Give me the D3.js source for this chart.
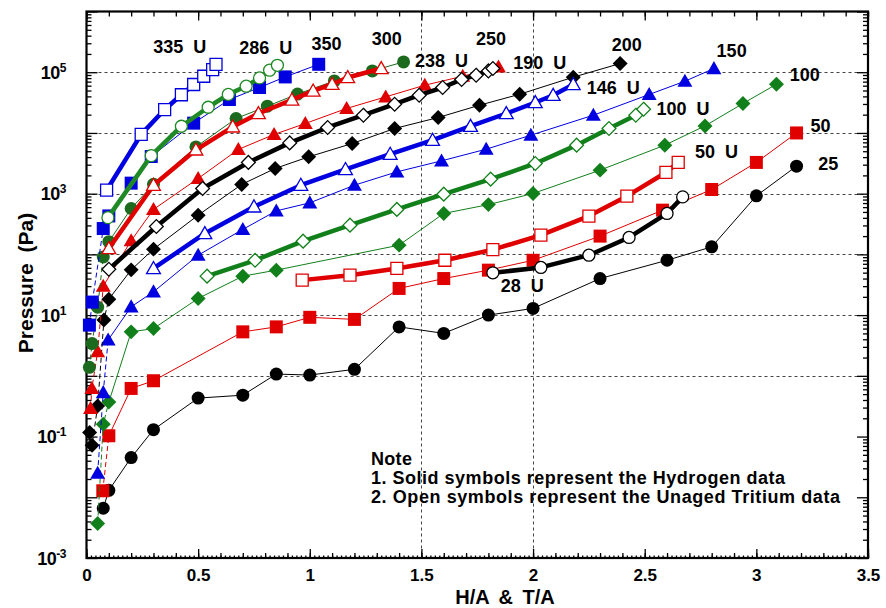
<!DOCTYPE html>
<html>
<head>
<meta charset="utf-8">
<script src="https://cdnjs.cloudflare.com/ajax/libs/d3/7.8.5/d3.min.js"></script>
<style>
  body { margin: 0; background: #fff; }
  svg { display: block; }
  text { font-family: "Liberation Sans", Arial, sans-serif; font-weight: bold; fill: #000; }
</style>
</head>
<body>
<script>
// hydrogen data (solid symbols)
var h25x = [0.075, 0.10, 0.20, 0.30, 0.50, 0.70, 0.85, 1.0, 1.2, 1.4, 1.6, 1.8, 2.0, 2.3, 2.6, 2.8, 3.0, 3.18];
var h25y = [0.0066, 0.013, 0.045, 0.13, 0.43, 0.48, 1.07, 1.03, 1.28, 6.4, 5.0, 10, 12.9, 40, 80, 133, 920, 2840];
var h50x = [0.073, 0.10, 0.20, 0.30, 0.70, 0.85, 1.0, 1.2, 1.4, 1.6, 1.8, 2.0, 2.3, 2.58, 2.8, 3.0, 3.18];
var h50y = [0.0128, 0.103, 0.62, 0.83, 5.3, 6.4, 9.2, 8.5, 27.5, 40, 55, 80, 200, 535, 1170, 3270, 10000];
var h100x = [0.05, 0.075, 0.10, 0.20, 0.30, 0.50, 0.70, 0.85, 1.4, 1.6, 1.8, 2.0, 2.3, 2.59, 2.77, 2.94, 3.09];
var h100y = [0.0037, 0.16, 0.37, 5.3, 6.0, 18.8, 43.8, 55, 142, 472, 660, 1007, 2440, 6290, 13060, 30550, 63400];
var h150x = [0.05, 0.075, 0.097, 0.20, 0.30, 0.50, 0.70, 0.85, 1.0, 1.2, 1.39, 1.59, 1.79, 1.99, 2.27, 2.52, 2.68, 2.81];
var h150y = [0.025, 0.53, 3.9, 13.7, 24.2, 97, 258, 521, 706, 1380, 2285, 3470, 5400, 9190, 19600, 43000, 71100, 115000];
var h200x = [0.014, 0.025, 0.05, 0.078, 0.10, 0.20, 0.30, 0.50, 0.695, 0.845, 0.995, 1.19, 1.38, 1.575, 1.76, 1.94, 2.18, 2.39];
var h200y = [0.117, 0.072, 0.32, 8.3, 18.3, 55.6, 122, 442, 1420, 2600, 4040, 6700, 11840, 17950, 28600, 43400, 82800, 139000];
var h250x = [0.018, 0.024, 0.05, 0.075, 0.20, 0.30, 0.50, 0.68, 0.84, 0.98, 1.165, 1.34, 1.515, 1.685, 1.845];
var h250y = [0.29, 0.62, 2.5, 30, 168, 550, 1780, 5350, 9440, 14300, 25300, 39300, 61100, 85900, 122000];
var h300x = [0.013, 0.025, 0.05, 0.075, 0.10, 0.20, 0.30, 0.49, 0.67, 0.81, 0.945, 1.11, 1.28, 1.42];
var h300y = [1.38, 3.4, 13.5, 91, 162, 570, 1430, 5890, 17300, 27600, 43700, 71900, 105000, 148000];
var h350x = [0.013, 0.026, 0.075, 0.10, 0.20, 0.29, 0.48, 0.64, 0.775, 0.89, 1.04];
var h350y = [6.84, 16.4, 267, 430, 1490, 4090, 14500, 35500, 56000, 83700, 135000];

// unaged tritium data (open symbols)
var t28x = [1.82, 2.035, 2.25, 2.43, 2.60, 2.67];
var t28y = [49.7, 61, 97, 190, 472, 885];
var t50x = [0.966, 1.18, 1.39, 1.605, 1.82, 2.035, 2.25, 2.42, 2.595, 2.65];
var t50y = [37.7, 45.5, 58.7, 80, 120, 207, 427, 910, 2235, 3270];
var t100x = [0.54, 0.755, 0.97, 1.18, 1.39, 1.60, 1.81, 2.01, 2.195, 2.34, 2.46, 2.495];
var t100y = [43.8, 80, 165, 303, 550, 981, 1734, 3140, 6290, 11840, 19600, 24600];
var t146x = [0.30, 0.53, 0.75, 0.96, 1.16, 1.36, 1.55, 1.72, 1.88, 2.01, 2.09, 2.18];
var t146y = [58.7, 221, 607, 1380, 2510, 4470, 7600, 12900, 20900, 31700, 41800, 62900];
var t190x = [0.10, 0.313, 0.52, 0.725, 0.91, 1.08, 1.24, 1.38, 1.49, 1.595, 1.68, 1.745, 1.80, 1.82];
var t190y = [56.8, 288, 1219, 3270, 6860, 12300, 19600, 29700, 41800, 56000, 75900, 89300, 105000, 115000];
var t238x = [0.10, 0.30, 0.49, 0.655, 0.77, 0.92, 1.015, 1.10, 1.17, 1.32];
var t238y = [125, 1380, 5270, 12600, 20900, 35000, 49200, 63400, 81800, 115000];
var t286x = [0.096, 0.29, 0.425, 0.545, 0.635, 0.715, 0.775, 0.82, 0.855];
var t286y = [403, 4230, 12900, 26500, 43100, 58900, 80600, 108000, 130000];
var t335x = [0.09, 0.245, 0.35, 0.425, 0.48, 0.525, 0.565, 0.58];
var t335y = [1140, 9460, 24300, 42600, 62800, 85900, 110000, 135000];

// curve labels, placed at [x, pressure] of their left baseline
var labelText = ['335 U', '286 U', '350', '300', '238 U', '250', '190 U', '200', '146 U', '150', '100', '100 U', '50', '50 U', '25', '28 U'];
var labelX = [0.299, 0.684, 1.008, 1.277, 1.471, 1.744, 1.911, 2.352, 2.24, 2.822, 3.150, 2.553, 3.243, 2.725, 3.277, 1.855];
var labelY = [2.08e5, 1.98e5, 2.30e5, 2.78e5, 1.22e5, 2.78e5, 1.15e5, 2.24e5, 4.46e4, 1.79e5, 7.11e4, 1.96e4, 1.04e4, 3.94e3, 2.44e3, 24.2];

var xTicks = [0, 0.5, 1, 1.5, 2, 2.5, 3, 3.5];
var yLabelExps = [5, 3, 1, -1, -3];
var noteLines = ['Note', '1. Solid symbols represent the Hydrogen data', '2. Open symbols represent the Unaged Tritium data'];

var board = { width: 886, height: 608, left: 86.5, right: 868, top: 11.5, bottom: 558 };

var blue = '#0000e0', red = '#e00000', green = '#12801a', dkgreen = '#1c6a1e';

var series = [
  { x: h25x, y: h25y, color: '#000', shape: 'circle', open: false, dashLow: false },
  { x: h50x, y: h50y, color: red, shape: 'square', open: false, dashLow: true },
  { x: h100x, y: h100y, color: green, shape: 'diamond', open: false, dashLow: true },
  { x: h150x, y: h150y, color: blue, shape: 'triangle', open: false, dashLow: true },
  { x: h200x, y: h200y, color: '#000', shape: 'diamond', open: false, dashLow: true },
  { x: h250x, y: h250y, color: red, shape: 'triangle', open: false, dashLow: true },
  { x: h300x, y: h300y, color: dkgreen, shape: 'circle', open: false, dashLow: true },
  { x: h350x, y: h350y, color: blue, shape: 'square', open: false, dashLow: true },
  { x: t28x, y: t28y, color: '#000', shape: 'circle', open: true },
  { x: t50x, y: t50y, color: red, shape: 'square', open: true },
  { x: t100x, y: t100y, color: green, shape: 'diamond', open: true },
  { x: t146x, y: t146y, color: blue, shape: 'triangle', open: true },
  { x: t190x, y: t190y, color: '#000', shape: 'diamond', open: true },
  { x: t238x, y: t238y, color: red, shape: 'triangle', open: true },
  { x: t286x, y: t286y, color: '#1f8a25', shape: 'circle', open: true },
  { x: t335x, y: t335y, color: blue, shape: 'square', open: true }
];

var shapes = {
  circle: function(s) { return d3.symbol(d3.symbolCircle, Math.PI * s * s)(); },
  square: function(s) { return 'M' + (-s) + ',' + (-s) + 'H' + s + 'V' + s + 'H' + (-s) + 'Z'; },
  diamond: function(s) { s = s * 1.15; return 'M0,' + (-s) + 'L' + s + ',0L0,' + s + 'L' + (-s) + ',0Z'; },
  triangle: function(s) { s = s * 1.15; return 'M0,' + (-s) + 'L' + s + ',' + (s * 0.75) + 'L' + (-s) + ',' + (s * 0.75) + 'Z'; }
};

var svg = d3.select('body').append('svg')
  .attr('width', board.width)
  .attr('height', board.height);

var x = d3.scaleLinear().domain([0, 3.5]).range([board.left, board.right]);
var y = d3.scaleLog().domain([1e-3, 1e6]).range([board.bottom, board.top]);

// dashed grid
var grid = svg.append('g').attr('stroke', '#444').attr('stroke-width', 1).attr('stroke-dasharray', '3,3');
grid.selectAll('.hg').data([1, 10, 100, 1e3, 1e4, 1e5]).enter().append('line')
  .attr('x1', board.left).attr('x2', board.right)
  .attr('y1', function(d) { return Math.round(y(d)) + 0.5; })
  .attr('y2', function(d) { return Math.round(y(d)) + 0.5; });
grid.selectAll('.vg').data([1.5, 2]).enter().append('line')
  .attr('y1', board.top).attr('y2', board.bottom)
  .attr('x1', function(d) { return Math.round(x(d)) + 0.5; })
  .attr('x2', function(d) { return Math.round(x(d)) + 0.5; });

// ticks on all four sides, pointing inward
var fine = d3.range(0, 3.5001, 0.02), minorX = d3.range(0, 3.5001, 0.1);
var minorY = [], majorY = [];
for (var e = -3; e < 6; e++) {
  majorY.push(Math.pow(10, e));
  for (var m = 2; m < 10; m++) minorY.push(m * Math.pow(10, e));
}
majorY.push(1e6);

function tickGroup(axis, tx, ty) {
  svg.append('g').attr('transform', 'translate(' + tx + ',' + ty + ')')
    .call(axis.tickFormat(''))
    .call(function(g) { g.select('.domain').remove(); g.selectAll('line').attr('stroke', '#000').attr('stroke-width', 1.3); });
}
tickGroup(d3.axisBottom(x).tickValues(fine).tickSize(-2.5), 0, board.bottom);
tickGroup(d3.axisBottom(x).tickValues(minorX).tickSize(-5), 0, board.bottom);
tickGroup(d3.axisBottom(x).tickValues(xTicks).tickSize(-9), 0, board.bottom);
tickGroup(d3.axisTop(x).tickValues(minorX).tickSize(-5), 0, board.top);
tickGroup(d3.axisTop(x).tickValues(xTicks).tickSize(-9), 0, board.top);
tickGroup(d3.axisLeft(y).tickValues(minorY).tickSize(-5), board.left, 0);
tickGroup(d3.axisLeft(y).tickValues(majorY).tickSize(-11), board.left, 0);
tickGroup(d3.axisRight(y).tickValues(minorY).tickSize(-5), board.right, 0);
tickGroup(d3.axisRight(y).tickValues(majorY).tickSize(-11), board.right, 0);

svg.append('rect')
  .attr('x', board.left).attr('y', board.top)
  .attr('width', board.right - board.left).attr('height', board.bottom - board.top)
  .attr('fill', 'none').attr('stroke', '#000').attr('stroke-width', 2.2);

// x tick labels
svg.append('g').attr('transform', 'translate(0,' + board.bottom + ')')
  .call(d3.axisBottom(x).tickValues(xTicks).tickSize(0).tickPadding(11).tickFormat(d3.format('')))
  .call(function(g) {
    g.select('.domain').remove();
    g.selectAll('text').style('font-size', '17px').attr('fill', '#000')
      .style('font-family', '"Liberation Sans", Arial, sans-serif');
  });

// y tick labels: 10 with superscript exponent
var yl = svg.append('g').selectAll('text').data(yLabelExps).enter().append('text')
  .attr('x', 66)
  .attr('y', function(d) { return y(Math.pow(10, d)) + 6.5; })
  .attr('text-anchor', 'end')
  .style('font-size', '18px').style('letter-spacing', '-0.5px');
yl.append('tspan').text('10');
yl.append('tspan').attr('dy', -7).style('font-size', '12px').text(function(d) { return d; });

// axis titles
svg.append('text')
  .attr('transform', 'translate(33,283) rotate(-90)')
  .attr('text-anchor', 'middle')
  .style('font-size', '21px').style('word-spacing', '5px')
  .text('Pressure (Pa)');
svg.append('text')
  .attr('x', 505).attr('y', 604)
  .attr('text-anchor', 'middle')
  .style('font-size', '20px').style('word-spacing', '4px')
  .text('H/A & T/A');

// curves: hydrogen lines are dashed near the origin
var line = d3.line()
  .x(function(d) { return x(d[0]); })
  .y(function(d) { return y(d[1]); });

series.forEach(function(s) {
  var pts = s.x.map(function(v, i) { return [v, s.y[i]]; });
  var g = svg.append('g');
  var split = 0;
  if (s.dashLow) {
    pts.forEach(function(p, i) { if (p[0] <= 0.1) split = i; });
    g.append('path')
      .attr('d', line(pts.slice(0, split + 1)))
      .attr('fill', 'none').attr('stroke', s.color)
      .attr('stroke-width', 1).attr('stroke-dasharray', '5,3');
  }
  g.append('path')
    .attr('d', line(pts.slice(split)))
    .attr('fill', 'none')
    .attr('stroke', s.color)
    .attr('stroke-width', s.open ? 4.5 : 1)
    .attr('stroke-linejoin', 'round');
  g.selectAll('path.pt').data(pts).enter().append('path')
    .attr('class', 'pt')
    .attr('transform', function(d) { return 'translate(' + x(d[0]) + ',' + y(d[1]) + ')'; })
    .attr('d', shapes[s.shape](s.open ? 6 : 6.5))
    .attr('fill', s.open ? '#fff' : s.color)
    .attr('stroke', s.open ? s.color : 'none')
    .attr('stroke-width', 1.3);
});

// curve labels
svg.append('g').selectAll('text').data(labelText).enter().append('text')
  .attr('x', function(d, i) { return x(labelX[i]); })
  .attr('y', function(d, i) { return y(labelY[i]); })
  .style('font-size', '18px').style('word-spacing', '5px')
  .text(function(d) { return d; });

// note
var noteWidths = [41, 414, 469];
svg.append('g').selectAll('text').data(noteLines).enter().append('text')
  .attr('x', x(1.274))
  .attr('y', function(d, i) { return y(0.034) + i * 19; })
  .attr('textLength', function(d, i) { return noteWidths[i]; })
  .attr('lengthAdjust', 'spacing')
  .style('font-size', '18px')
  .text(function(d) { return d; });
</script>
</body>
</html>
